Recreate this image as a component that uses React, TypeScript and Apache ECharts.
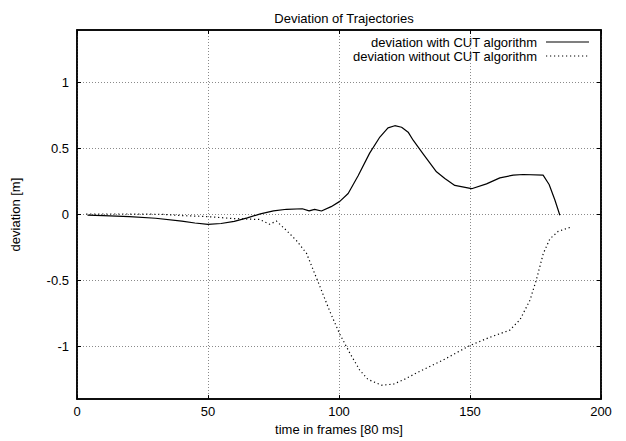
import React, { useEffect, useRef } from "react";
import * as echarts from "echarts";

const titleText = "Deviation of Trajectories";
const xName = "time in frames [80 ms]";
const yName = "deviation [m]";
const seriesNames = ["deviation with CUT algorithm", "deviation without CUT algorithm"];
const yTicks = [-1, -0.5, 0, 0.5, 1];

const withCut: [number, number][] = [
  [4, -0.005], [10, -0.008], [20, -0.015], [30, -0.028], [40, -0.05], [45, -0.064],
  [50, -0.075], [55, -0.068], [60, -0.052], [65, -0.025], [70, 0.005], [75, 0.028],
  [80, 0.04], [86, 0.044], [88.6, 0.028], [90.7, 0.039], [93.3, 0.027], [97, 0.06],
  [100.3, 0.1], [103.5, 0.16], [107.3, 0.294], [111.7, 0.466], [115.6, 0.588],
  [118.7, 0.657], [121.3, 0.674], [123.9, 0.662], [126.4, 0.625], [128.3, 0.564],
  [132.1, 0.461], [137.2, 0.324], [140.4, 0.274], [144.2, 0.221], [150.6, 0.196],
  [156.3, 0.233], [161.4, 0.278], [166.5, 0.299], [170.3, 0.304], [177.9, 0.299],
  [180.2, 0.228], [182.4, 0.11], [184.3, -0.005],
];

const withoutCut: [number, number][] = [
  [3.5, 0.004], [10, 0.004], [20, 0.004], [32, 0.002], [40, -0.008], [49.4, -0.015],
  [59.5, -0.03], [66, -0.035], [69.7, -0.037], [73.5, -0.074], [76.1, -0.049],
  [79.9, -0.12], [83.7, -0.196], [87.6, -0.294], [90.1, -0.417], [92.6, -0.54],
  [96.5, -0.735], [100.3, -0.907], [104.1, -1.05], [107.9, -1.18], [111, -1.25],
  [116.2, -1.294], [120.7, -1.287], [125, -1.25], [129.6, -1.201], [139.8, -1.103],
  [150, -0.993], [157.6, -0.931], [165.2, -0.877], [169.1, -0.797], [172.9, -0.649],
  [175.4, -0.49], [178, -0.294], [180.5, -0.184], [183.7, -0.127], [188.8, -0.093],
];

const FONT = "Liberation Sans";
const FS = 13;
const SOLID = { color: "#000", width: 1.2 };
const DOTTED = { color: "#000", width: 1.2, type: [1.2, 2.8] };

export default function App() {
  const ref = useRef<HTMLDivElement>(null);
  useEffect(() => {
    document.body.style.margin = "0";
    const chart = echarts.init(ref.current!, null, { renderer: "svg" });
    const gridLine = { show: true, lineStyle: { color: "#8a8a8a", width: 1, type: [1, 2] as any } };
    const tick = { show: true, inside: true, length: 4, lineStyle: { color: "#000" } };
    const label = { color: "#000", fontFamily: FONT, fontSize: FS };
    const axisLine = { show: true, onZero: false, lineStyle: { color: "#000", width: 1.5 } };

    const legendRows: any[] = [];
    seriesNames.forEach((name, i) => {
      const y = 42 + i * 14;
      legendRows.push({
        type: "text",
        x: 537,
        y,
        style: {
          text: name,
          fontFamily: FONT,
          fontSize: FS,
          fill: "#000",
          align: "right",
          verticalAlign: "middle",
        },
      });
      legendRows.push({
        type: "line",
        shape: { x1: 546, y1: y, x2: 589, y2: y },
        style:
          i === 0
            ? { stroke: "#000", lineWidth: SOLID.width }
            : { stroke: "#000", lineWidth: DOTTED.width, lineDash: DOTTED.type },
      });
    });

    chart.setOption({
      animation: false,
      backgroundColor: "#fff",
      title: {
        text: titleText,
        left: 339,
        textAlign: "center",
        top: 7,
        textStyle: { fontFamily: FONT, fontSize: FS, fontWeight: "normal", color: "#000" },
      },
      graphic: legendRows,
      grid: {
        left: 77,
        right: 25,
        top: 30,
        bottom: 30,
        containLabel: false,
        show: true,
        borderColor: "#000",
        borderWidth: 1.5,
      },
      xAxis: [
        {
          type: "value",
          min: 0,
          max: 200,
          interval: 50,
          name: xName,
          nameLocation: "middle",
          nameGap: 22,
          nameTextStyle: label,
          axisLine,
          axisTick: tick,
          axisLabel: { ...label, margin: 6 },
          splitLine: gridLine,
        },
        {
          type: "value",
          position: "top",
          min: 0,
          max: 200,
          interval: 50,
          axisLine,
          axisTick: tick,
          axisLabel: { show: false },
          splitLine: { show: false },
        },
      ],
      yAxis: [
        {
          type: "value",
          min: -1.4,
          max: 1.4,
          name: yName,
          nameLocation: "middle",
          nameGap: 55,
          nameTextStyle: label,
          axisLine,
          axisTick: { ...tick, customValues: yTicks },
          axisLabel: { ...label, margin: 8, customValues: yTicks },
          splitLine: gridLine,
        },
        {
          type: "value",
          position: "right",
          min: -1.4,
          max: 1.4,
          axisLine,
          axisTick: { ...tick, customValues: yTicks },
          axisLabel: { show: false, customValues: yTicks },
          splitLine: { show: false },
        },
      ],
      series: [
        {
          name: seriesNames[0],
          type: "line",
          data: withCut,
          showSymbol: false,
          symbol: "none",
          lineStyle: SOLID,
          z: 3,
        },
        {
          name: seriesNames[1],
          type: "line",
          data: withoutCut,
          showSymbol: false,
          symbol: "none",
          lineStyle: DOTTED,
          z: 3,
        },
      ],
    });
    return () => chart.dispose();
  }, []);
  return <div ref={ref} style={{ position: "absolute", left: 0, top: 0, width: 626, height: 441 }} />;
}
